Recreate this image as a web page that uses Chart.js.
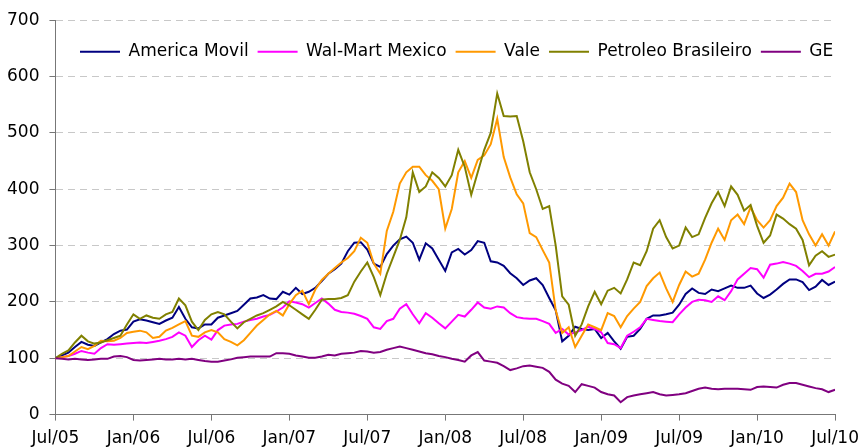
<!DOCTYPE html>
<html>
<head>
<meta charset="utf-8">
<script src="https://cdn.jsdelivr.net/npm/chart.js@4.4.1/dist/chart.umd.min.js"></script>
<style>
  html, body { margin: 0; padding: 0; background: #fff; }
  #wrap { width: 867px; height: 448px; }
</style>
</head>
<body>
<div id="wrap"><canvas id="lineChart"></canvas></div>
<script>
// Series names, in legend order
const seriesNames = ["America Movil", "Wal-Mart Mexico", "Vale", "Petroleo Brasileiro", "GE"];
const seriesColors = ["#000080", "#FF00FF", "#FF9900", "#808000", "#800080"];

// x axis labels, one every 6 months
const tickLabels = ["Jul/05", "Jan/06", "Jul/06", "Jan/07", "Jul/07", "Jan/08",
                    "Jul/08", "Jan/09", "Jul/09", "Jan/10", "Jul/10"];

// Rebased values (Jul/05 = 100), read twice a month
const americaMovil = [
  100, 105, 110, 120, 129, 124, 122, 128, 134, 143,
  149, 151, 165, 169, 167, 164, 161, 167, 172, 191,
  170, 155, 153, 160, 160, 172, 176, 180, 184, 195,
  206, 208, 212, 206, 205, 218, 213, 225, 214, 218,
  225, 237, 250, 258, 268, 290, 305, 306, 293, 268,
  262, 285, 300, 311, 316, 305, 275, 304, 295, 275,
  255, 288, 294, 284, 292, 308, 305, 272, 270, 264,
  251, 242, 230, 238, 242, 230, 207, 185, 130, 140,
  156, 152, 150, 152, 136, 145, 130, 117, 138, 140,
  152, 170, 176, 176, 178, 181, 195, 214, 224, 216,
  214, 222, 219, 224, 229, 225, 225, 229, 215, 207,
  213, 222, 232, 240, 240, 235, 221, 227, 239, 230,
  236
];
const walmartMexico = [
  100, 102, 104, 108, 113, 110, 108, 118, 125, 124,
  125, 126, 127, 128, 127, 129, 131, 134, 138, 146,
  140, 120, 132, 140, 133, 150, 158, 160, 161, 165,
  168, 170, 174, 177, 183, 190, 201, 199, 196, 190,
  198, 206, 197, 186, 182, 181, 179, 175, 170, 155,
  152, 166, 170, 188, 196, 178, 162, 180, 172, 162,
  153, 165, 177, 174, 186, 199, 190, 188, 192, 190,
  180, 173, 171, 170, 170, 166, 161, 145, 152, 142,
  146, 150, 156, 152, 146, 127, 125, 118, 140, 147,
  155, 170, 168, 166, 165, 164, 178, 190, 200, 204,
  203, 200, 210, 203, 219, 240, 250, 260, 258, 243,
  266, 268, 271, 268, 264, 255, 244, 250, 250, 254,
  262
];
const vale = [
  100, 102, 104, 112, 120, 116, 122, 131, 130, 131,
  136, 145, 147, 149, 146, 136, 138, 149, 154, 160,
  166, 140, 138, 146, 150, 146, 134, 129, 123, 132,
  145, 158, 168, 178, 184, 176, 196, 212, 220, 196,
  222, 239, 250, 260, 270, 278, 290, 314, 305, 268,
  250, 326, 360, 410, 430, 440, 440, 425, 415, 400,
  330, 365, 430, 450, 420, 452, 460, 480, 525, 457,
  421, 391, 375, 322, 315, 292, 270, 185, 145, 155,
  120, 140, 160, 155, 150, 180, 175, 155, 175, 188,
  200, 228, 242, 252, 224, 200, 230, 254, 245, 250,
  275, 305, 330, 310, 345, 355, 338, 368, 345, 332,
  345, 370, 385, 410, 395, 345, 320, 300, 320, 300,
  325
];
const petrobras = [
  100, 108, 114, 128, 140, 130, 126, 128, 132, 136,
  140, 160, 178, 170, 176, 172, 170, 178, 182, 206,
  194, 165, 150, 168, 178, 182, 178, 165, 153, 164,
  170, 176, 180, 186, 192, 200, 194, 186, 178, 170,
  186, 204, 205, 205, 207, 212, 236, 254, 270, 244,
  212, 250, 280, 310, 350, 430, 395, 405, 430, 420,
  405, 425, 470, 440, 390, 430, 470, 500, 570, 530,
  529, 530, 485, 430, 400, 365, 370, 300, 210, 195,
  140, 160, 192, 218, 196, 220, 225, 215, 240, 270,
  265, 290, 330, 345, 315, 295, 300, 332, 315, 320,
  349, 375, 395, 370, 405, 390, 362, 372, 335, 305,
  318, 355, 348, 338, 330, 310, 265, 282, 290, 280,
  284
];
const ge = [
  100, 99, 98, 99, 98, 97, 98, 99, 99, 103,
  104, 102, 97, 96, 97, 98, 99, 98, 98, 99,
  98, 99, 97, 95, 94, 94, 96, 98, 101, 102,
  103, 103, 103, 103, 109, 109, 108, 105, 103, 101,
  101, 103, 106, 105, 108, 109, 110, 113, 112, 110,
  111, 115, 118, 121, 118, 115, 112, 109, 107, 104,
  102, 99, 97, 94, 105, 111, 96, 94, 92, 86,
  79, 82, 86, 87, 85, 83, 76, 62, 55, 51,
  40, 54, 51, 48, 40, 36, 34, 22, 31, 34,
  36, 38, 40, 36, 34, 35, 36, 38, 42, 46,
  48, 46, 45, 46, 46, 46, 45, 44, 49, 50,
  49, 48, 53, 56, 56, 53, 50, 47, 45, 40,
  44
];

const allSeries = [americaMovil, walmartMexico, vale, petrobras, ge];
// half-month steps, counted from Jul/05
const months = americaMovil.map((_, i) => i / 2);

Chart.defaults.font.family = "'DejaVu Sans', sans-serif";
Chart.defaults.font.size = 17;
Chart.defaults.color = "#000";

// put the legend inside the plot, like the original
const legendInside = {
  id: "legendInside",
  beforeLayout(chart) {
    const lg = chart.legend;
    if (lg && !lg._inside) {
      const fit = lg.fit;
      lg.fit = function() {
        this.maxWidth = 1000; // keep all five entries on one row
        fit.call(this);
        this.height = 0;
      };
      lg._inside = true;
    }
  },
  afterLayout(chart) {
    const lg = chart.legend;
    lg.top = chart.chartArea.top + 14;
    lg.bottom = lg.top + 40;
    lg.left = 71;
    lg.right = chart.width;
  }
};

const datasets = seriesNames.map((name, i) => ({
  label: name,
  data: allSeries[i].map((v, j) => ({ x: months[j], y: v })),
  borderColor: seriesColors[i],
  backgroundColor: seriesColors[i],
  borderWidth: 2,
  pointRadius: 0,
  tension: 0,
  order: seriesNames.length - i // later series drawn on top
}));

new Chart(document.getElementById("lineChart"), {
  type: "line",
  data: { datasets: datasets },
  options: {
    responsive: true,
    maintainAspectRatio: false,
    animation: false,
    layout: { padding: { left: -3, right: 27, top: 20, bottom: -9 } },
    plugins: {
      tooltip: { enabled: false },
      legend: {
        position: "top",
        align: "start",
        labels: {
          usePointStyle: true,
          pointStyle: "line",
          pointStyleWidth: 40,
          padding: 9,
          color: "#000",
          sort: (a, b) => a.datasetIndex - b.datasetIndex
        }
      }
    },
    scales: {
      x: {
        type: "linear",
        min: 0,
        max: 60,
        grid: { drawOnChartArea: false, tickLength: 6, color: "#777", tickColor: "#777" },
        border: { color: "#777", width: 1 },
        ticks: {
          stepSize: 6,
          autoSkip: false,
          maxRotation: 0,
          padding: 8,
          callback: (v) => tickLabels[v / 6]
        }
      },
      y: {
        min: 0,
        max: 700,
        grid: { color: "#c8c8c8", tickLength: 6, tickColor: "#777", tickBorderDash: [] },
        border: { color: "#777", width: 1, dash: [7, 5] },
        ticks: { stepSize: 100, padding: 10 }
      }
    }
  },
  plugins: [legendInside]
});
</script>
</body>
</html>
